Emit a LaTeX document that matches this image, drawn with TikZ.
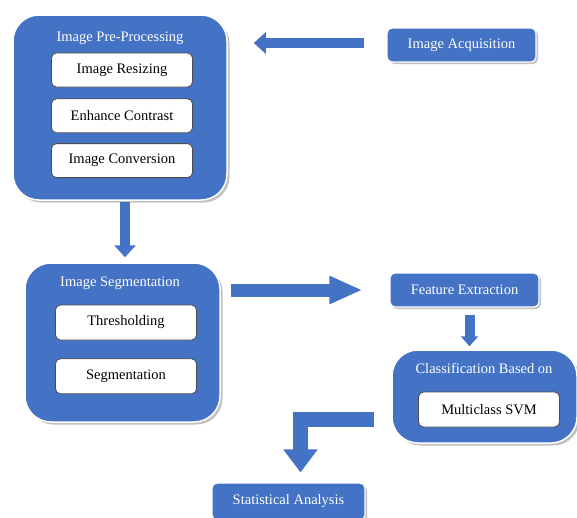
\documentclass[tikz,border=0pt]{standalone}
\usepackage{fontspec}
\setmainfont{Liberation Serif}
\usetikzlibrary{positioning,shadows,arrows.meta}
\definecolor{boxblue}{RGB}{68,114,196}
\tikzset{
  bigbox/.style = {draw=white, line width=1.5pt, fill=boxblue, rounded corners=26pt,
    drop shadow={shadow xshift=2.5pt, shadow yshift=-2.5pt, fill=black!40, opacity=0.6}},
  bluebox/.style = {draw=white, line width=1.2pt, fill=boxblue, rounded corners=5pt,
    minimum width=149pt, minimum height=34pt, text=white, font=\fontsize{14.5}{16}\selectfont,
    drop shadow={shadow xshift=2pt, shadow yshift=-2pt, fill=black!40, opacity=0.6}},
  head/.style = {text=white, font=\fontsize{14.5}{16}\selectfont, inner sep=0pt},
  stepbox/.style = {draw=black!70, line width=0.8pt, fill=white, rounded corners=5pt,
    minimum width=141pt, minimum height=34pt, font=\fontsize{14.5}{16}\selectfont},
  fatarrow/.style = {boxblue, line width=10pt, -{Triangle[width=21pt,length=12pt]}}
}
\begin{document}
\begin{tikzpicture}[x=1pt, y=-1pt]
        \useasboundingbox (0,0) rectangle (577,517);
        \clip (0,0) rectangle (577,517);
        \fill[white] (0,0) rectangle (577,517);
        % pre-processing
        \node[bigbox, minimum width=214pt, minimum height=185pt] (pre) at (120,107.5) {};
        \node[head] (pretitle) at (120,38) {Image Pre-Processing};
        \node[stepbox] (resize) at (122,70) {Image Resizing};
        \node[stepbox] (contrast) [below=11pt of resize] {Enhance Contrast};
        \node[stepbox] (convert) [below=10pt of contrast] {Image Conversion};
        % segmentation
        \node[bigbox, minimum width=195pt, minimum height=159pt] (seg) at (122.5,342.5) {};
        \node[head] (segtitle) at (120,283) {Image Segmentation};
        \node[stepbox, minimum height=35pt] (thresh) at (126,322.5) {Thresholding};
        \node[stepbox, minimum height=35pt] (segment) [below=18pt of thresh] {Segmentation};
        % right column
        \node[bluebox] (acq) at (461.5,45) {Image Acquisition};
        \node[bluebox] (feat) at (464.5,290) {Feature Extraction};
        \node[bigbox, minimum width=185pt, minimum height=93pt] (cls) at (484.5,396.5) {};
        \node[head] (clstitle) at (484,368) {Classification Based on};
        \node[stepbox, minimum height=35pt] (svm) at (489,409.5) {Multiclass SVM};
        \node[bluebox, minimum width=153pt, minimum height=37pt] (stat) at (288.5,501.5) {Statistical Analysis};
        %
        \draw[fatarrow, shorten <=22pt, shorten >=26pt] (acq.west |- 0,43) -- (pre.east |- 0,43);
        \draw[fatarrow, shorten <=1pt, shorten >=5pt] ([xshift=5pt]pre.south) -- ([xshift=5pt]pre.south |- seg.north);
        \draw[fatarrow, line width=13pt, -{Triangle[width=26pt,length=33pt]}, shorten <=10pt, shorten >=27pt] (seg.east |- feat) -- (feat.west);
        \draw[fatarrow, line width=10pt, -{Triangle[width=17pt,length=10pt]}, shorten <=7pt, shorten >=3pt] ([xshift=5pt]feat.south) -- ([xshift=5pt]feat.south |- cls.north);
        \draw[fatarrow, line width=15pt, -{Triangle[width=33pt,length=23pt]}, shorten <=17pt, shorten >=10pt] ([yshift=-23pt]cls.west) -| ([xshift=12pt]stat.north);
      \end{tikzpicture}
\end{document}
